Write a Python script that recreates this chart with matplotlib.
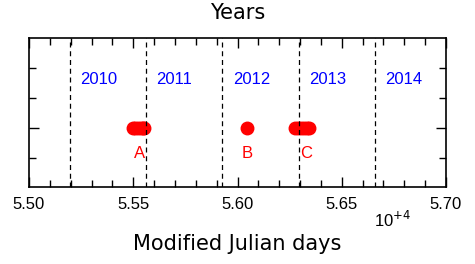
import matplotlib
matplotlib.use("Agg")
import matplotlib.pyplot as plt
from matplotlib.ticker import MultipleLocator, FixedLocator

# Data (MJD)
year_starts = [55197, 55562, 55927, 56293, 56658]
year_labels = ["2010", "2011", "2012", "2013", "2014"]
year_label_x = [55333, 55698, 56066, 56433, 56795]
obs_A = [55499, 55510, 55522, 55535, 55545, 55553]
obs_B = [56046]
obs_C = [56276, 56290, 56305, 56320, 56334, 56343]
group_labels = ["A", "B", "C"]
group_label_x = [55529, 56047, 56329]

fig = plt.figure(figsize=(4.75, 2.64), dpi=100)
ax = fig.add_axes([29/475, 1-187.3/264, (446-29)/475, (187.3-38.3)/264])

SCALE = 1e4
for xs in (obs_A, obs_B, obs_C):
    ax.plot([x/SCALE for x in xs], [2]*len(xs), 'o', color='red', ms=9, mec='red', ls='none')

for x in year_starts:
    ax.axvline(x/SCALE, color='black', ls=(0, (4, 3)), lw=0.9)

for x, t in zip(year_label_x, year_labels):
    ax.text(x/SCALE, 3.62, t, color='blue', ha='center', va='center',
            fontsize=12, family='Liberation Sans')

for x, t in zip(group_label_x, group_labels):
    ax.text(x/SCALE, 1.12, t, color='red', ha='center', va='center',
            fontsize=12, family='Liberation Sans')

ax.set_xlim(5.50, 5.70)
ax.set_ylim(0, 5)
ax.xaxis.set_major_locator(MultipleLocator(0.05))
ax.xaxis.set_minor_locator(MultipleLocator(0.01))
ax.yaxis.set_major_locator(FixedLocator([2]))
ax.yaxis.set_minor_locator(FixedLocator([1, 3, 4]))
ax.set_xticks([5.50, 5.55, 5.60, 5.65, 5.70])
ax.set_xticklabels(["5.50", "5.55", "5.60", "5.65", "5.70"], family='Liberation Sans', fontsize=12)
ax.set_yticklabels([])
ax.tick_params(which='both', direction='in', top=True, right=True, width=1)
ax.tick_params(which='major', length=7, pad=7)
ax.tick_params(which='minor', length=5)
for s in ax.spines.values():
    s.set_linewidth(1.2)

fig.text(393/475, 1-220/264, "10$^{+4}$", ha='center', va='center',
         fontsize=12, family='Liberation Sans')
fig.text(0.5, 1-13/264, "Years", ha='center', va='center', fontsize=15, family='DejaVu Sans')
fig.text(0.5, 1-244/264, "Modified Julian days", ha='center', va='center', fontsize=15, family='DejaVu Sans')

fig.savefig("out.png", dpi=100)
